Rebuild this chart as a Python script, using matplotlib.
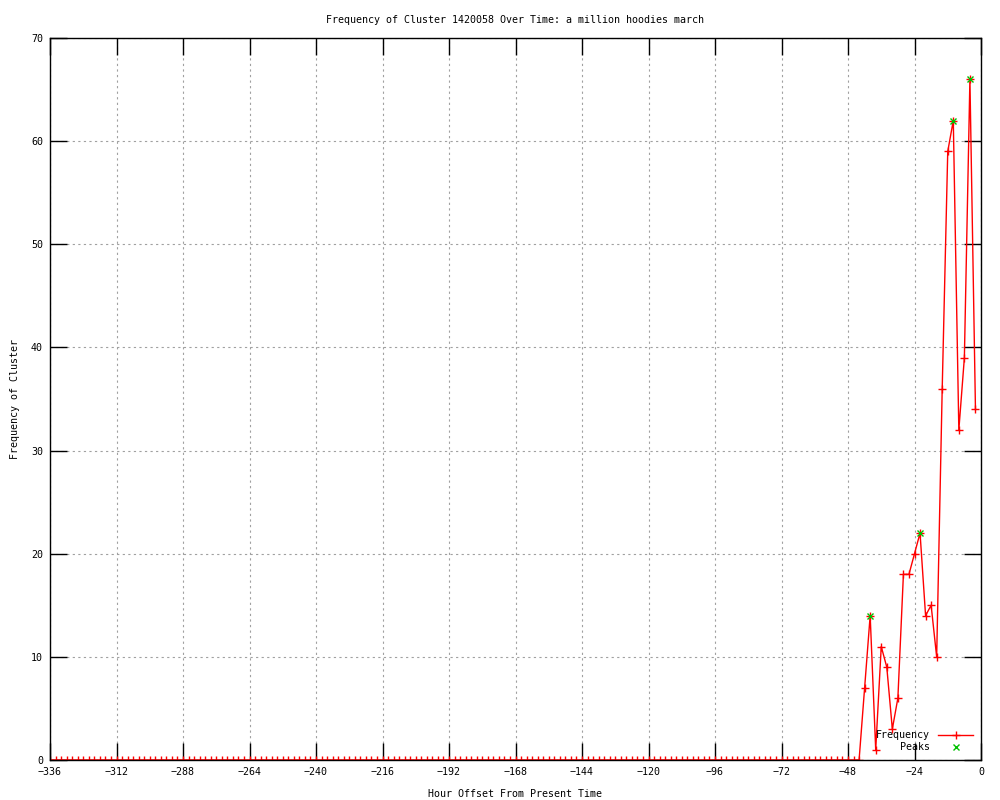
import numpy as np
import matplotlib
matplotlib.use("Agg")
import matplotlib.pyplot as plt

# hours before present, one sample every 2 hours
hours = list(range(-336, 0, 2))
# nothing happens until about -44 h, then the cluster takes off
freq = [0] * 147 + [7, 14, 1, 11, 9, 3, 6, 18, 18, 20, 22, 14, 15, 10,
                    36, 59, 62, 32, 39, 66, 34]
peak_hours = [-40, -22, -10, -4]
peak_freq = [14, 22, 62, 66]

xticks = list(range(-336, 1, 24))
yticks = list(range(0, 71, 10))

plt.rcParams['font.family'] = ['DejaVu Sans Mono']
plt.rcParams['font.size'] = 7.2

fig = plt.figure(figsize=(10, 8), dpi=100)
ax = fig.add_axes([0.05, 0.05, 0.931, 0.9025])

ax.plot(hours, freq, color='red', lw=1, marker='+', ms=6, mew=1,
        label='Frequency')
ax.plot(peak_hours, peak_freq, ls='none', color='#00c000', marker='x',
        ms=5, mew=1, label='Peaks')

ax.set_xlim(-336, 0)
ax.set_ylim(0, 70)
ax.set_xticks(xticks)
ax.set_yticks(yticks)
ax.tick_params(direction='in', length=12, width=1, top=True, right=True,
               labelsize=7.2, pad=5)
ax.grid(True, color='#a0a0a0', ls=(0, (2, 3)), lw=0.8)
for s in ax.spines.values():
    s.set_linewidth(1)

ax.set_title('Frequency of Cluster 1420058 Over Time: a million hoodies march',
             fontsize=7.2, pad=11)
ax.set_xlabel('Hour Offset From Present Time', labelpad=9)
ax.set_ylabel('Frequency of Cluster', labelpad=8)

leg = ax.legend(loc='lower right', frameon=False, markerfirst=False,
                handlelength=3.5, handletextpad=0.8, borderaxespad=0.4,
                labelspacing=0.2, fontsize=7.2)
for t in leg.get_texts():
    t.set_ha('right')
leg._legend_box.align = 'right'

fig.savefig('out.png', dpi=100)
